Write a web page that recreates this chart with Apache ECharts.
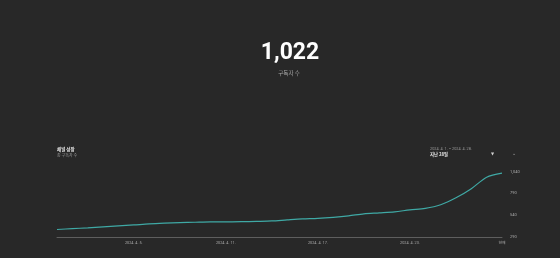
<!DOCTYPE html>
<html><head><meta charset="utf-8">
<script src="https://cdn.jsdelivr.net/npm/echarts@6/dist/echarts.min.js"></script>
<style>html,body{margin:0;padding:0;background:#282828;}#c{width:560px;height:258px;}</style>
</head><body><div id="c"></div>
<script>
const categories = ['2024. 3. 31.','2024. 4. 1.','2024. 4. 2.','2024. 4. 3.','2024. 4. 4.','2024. 4. 5.','2024. 4. 6.','2024. 4. 7.','2024. 4. 8.','2024. 4. 9.','2024. 4. 10.','2024. 4. 11.','2024. 4. 12.','2024. 4. 13.','2024. 4. 14.','2024. 4. 15.','2024. 4. 16.','2024. 4. 17.','2024. 4. 18.','2024. 4. 19.','2024. 4. 20.','2024. 4. 21.','2024. 4. 22.','2024. 4. 23.','2024. 4. 24.','2024. 4. 25.','2024. 4. 26.','2024. 4. 27.','2024. 4. 28.','현재'];
const subscribers = [376,386,394,405,417,428,440,448,454,459,463,463,465,469,474,486,497,503,515,532,555,566,578,601,618,659,739,843,975,1022];
const yTicks = [290,540,790,1040];
const shownLabelIdx = [5,11,17,23,29];
const totalValue = '1,022';
const totalLabel = '구독자 수';
const cardTitle = '채널 성장';
const cardSub = '총 구독자 수';
const rangeText = '2024. 4. 1. – 2024. 4. 28.';
const periodText = '지난 28일';

const chart = echarts.init(document.getElementById('c'), null, {renderer:'canvas'});
const sans = 'Roboto, "Noto Sans CJK KR", sans-serif';
chart.setOption({
  backgroundColor:'#282828',
  animation:false,
  grid:{left:57,right:58,top:171.5,bottom:21},
  xAxis:{type:'category',data:categories,boundaryGap:false,
    axisLine:{show:true,lineStyle:{color:'#5e5e5e',width:1}},
    axisTick:{show:false},
    axisLabel:{color:'#aaaaaa',fontSize:3.8,fontFamily:sans,margin:4,
      interval:(i)=>shownLabelIdx.includes(i)}},
  yAxis:{type:'value',position:'right',min:yTicks[0],max:yTicks[yTicks.length-1],interval:250,
    splitLine:{show:false},axisLine:{show:false},axisTick:{show:false},
    axisLabel:{color:'#aaaaaa',fontSize:4,fontFamily:sans,margin:8,
      formatter:(v)=>v.toLocaleString('en-US')}},
  series:[{type:'line',data:subscribers,smooth:0.3,showSymbol:false,
    lineStyle:{color:'#3fa9a5',width:1.2}}],
  graphic:[
    {type:'text',x:290,y:53,style:{text:totalValue,fill:'#ffffff',font:'bold 23px Roboto, sans-serif',align:'center',verticalAlign:'middle'}},
    {type:'text',x:289,y:72.7,style:{text:totalLabel,fill:'#aaaaaa',font:'5.5px "Noto Sans CJK KR", sans-serif',align:'center',verticalAlign:'middle'}},
    {type:'text',left:57,top:147.5,style:{text:cardTitle,fill:'#e8e8e8',font:'bold 4.5px "Noto Sans CJK KR", sans-serif'}},
    {type:'text',left:57,top:153,style:{text:cardSub,fill:'#9a9a9a',font:'4px "Noto Sans CJK KR", sans-serif'}},
    {type:'text',left:430,top:147,style:{text:rangeText,fill:'#9a9a9a',font:'3.8px Roboto, "Noto Sans CJK KR", sans-serif'}},
    {type:'text',left:430,top:152.5,style:{text:periodText,fill:'#e8e8e8',font:'bold 4.3px "Noto Sans CJK KR", sans-serif'}},
    {type:'text',left:491,top:151.5,style:{text:'▼',fill:'#d0d0d0',font:'4px "DejaVu Sans", sans-serif'}},
    {type:'text',left:512,top:151.5,style:{text:'⌄',fill:'#aaaaaa',font:'5px "DejaVu Sans", sans-serif'}}
  ]
});
</script></body></html>
